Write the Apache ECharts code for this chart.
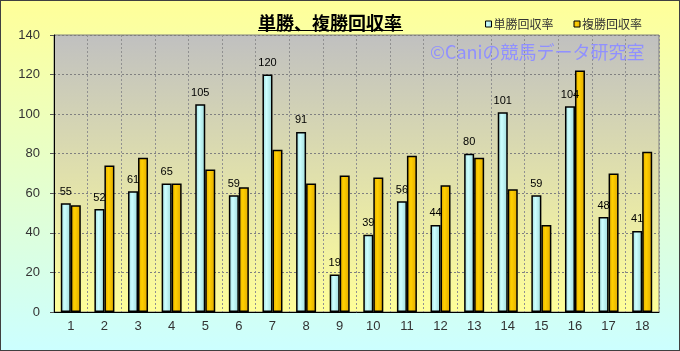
<!DOCTYPE html>
<html>
<head>
<meta charset="utf-8">
<script src="https://cdn.jsdelivr.net/npm/echarts@6/dist/echarts.min.js"></script>
<style>
  html, body { margin: 0; padding: 0; }
  #main { width: 680px; height: 351px; box-sizing: border-box; border: 1px solid #404040; }
</style>
</head>
<body>
<div id="main"></div>
<script>
// 1〜18 のカテゴリ
var categories = ['1', '2', '3', '4', '5', '6', '7', '8', '9', '10', '11', '12', '13', '14', '15', '16', '17', '18'];
// 単勝回収率
var tanshoValues = [55, 52, 61, 65, 105, 59, 120, 91, 19, 39, 56, 44, 80, 101, 59, 104, 48, 41];
// 複勝回収率
var fukushoValues = [54, 74, 78, 65, 72, 63, 82, 65, 69, 68, 79, 64, 78, 62, 44, 122, 70, 81];
var seriesNames = ['単勝回収率', '複勝回収率'];

var jpFont = '"Noto Sans CJK JP", sans-serif';

function barFill(edge, mid) {
    return new echarts.graphic.LinearGradient(0, 0, 1, 0, [
        { offset: 0, color: edge },
        { offset: 0.4, color: mid },
        { offset: 1, color: edge }
    ]);
}

var chart = echarts.init(document.getElementById('main'));

var option = {
    animation: false,
    backgroundColor: new echarts.graphic.LinearGradient(0, 0, 0, 1, [
        { offset: 0, color: '#ffff99' },
        { offset: 1, color: '#ccffff' }
    ]),
    title: [{
        text: '単勝、複勝回収率',
        left: 329,
        top: 13,
        padding: 0,
        textAlign: 'center',
        textStyle: { fontFamily: jpFont, fontSize: 18, fontWeight: 'bold', color: '#000' }
    }, {
        text: '©Caniの競馬データ研究室',
        left: 429,
        top: 42,
        padding: 0,
        textStyle: { fontFamily: jpFont, fontSize: 18, fontWeight: 'normal', color: '#9090ff' }
    }],
    graphic: [{
        type: 'line',
        shape: { x1: 257, y1: 29.5, x2: 402, y2: 29.5 },
        style: { stroke: '#000', lineWidth: 1 }
    }],
    legend: {
        data: seriesNames,
        left: 479,
        top: 12,
        icon: 'rect',
        itemWidth: 6,
        itemHeight: 6,
        itemGap: 20,
        itemStyle: { borderColor: '#000', borderWidth: 1 },
        textStyle: { fontFamily: jpFont, fontSize: 12, color: '#333', padding: [0, 0, 0, -3] }
    },
    grid: {
        left: 53,
        right: 20,
        top: 34,
        bottom: 38,
        show: true,
        borderColor: '#808080',
        borderWidth: 1,
        backgroundColor: new echarts.graphic.LinearGradient(0, 0, 0, 1, [
            { offset: 0, color: '#c0c0c0' },
            { offset: 1, color: '#ffff99' }
        ])
    },
    xAxis: {
        type: 'category',
        data: categories,
        axisLine: { lineStyle: { color: '#000', width: 1 } },
        axisTick: { show: false },
        axisLabel: { color: '#333', fontSize: 13, fontFamily: 'Liberation Sans', margin: 8 },
        splitLine: { show: true, interval: 0, lineStyle: { color: '#909090', type: [2, 2] } }
    },
    yAxis: {
        type: 'value',
        min: 0,
        max: 140,
        interval: 20,
        axisLine: { show: true, lineStyle: { color: '#000', width: 1 } },
        axisTick: { show: true, length: 4, lineStyle: { color: '#555' } },
        axisLabel: { color: '#333', fontSize: 13, fontFamily: 'Liberation Sans', margin: 14 },
        splitLine: { show: true, lineStyle: { color: '#808080', type: [2, 2] } }
    },
    series: [{
        name: seriesNames[0],
        type: 'bar',
        data: tanshoValues,
        barWidth: 10,
        barGap: '0%',
        itemStyle: { color: barFill('#9ed8d8', '#ccffff'), borderColor: '#000', borderWidth: 1.5 },
        label: {
            show: true,
            position: 'top',
            distance: 6,
            color: '#000',
            fontSize: 11,
            fontFamily: 'Liberation Sans'
        }
    }, {
        name: seriesNames[1],
        type: 'bar',
        data: fukushoValues,
        barWidth: 10,
        barGap: '0%',
        itemStyle: { color: barFill('#e0a800', '#ffd000'), borderColor: '#000', borderWidth: 1.5 }
    }]
};

chart.setOption(option);
</script>
</body>
</html>
